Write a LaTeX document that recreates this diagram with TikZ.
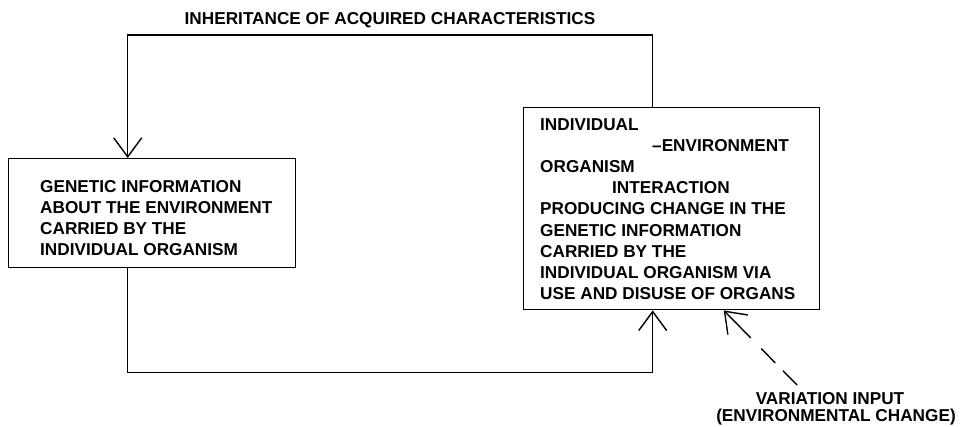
\documentclass[tikz,border=0pt]{standalone}
\usepackage{fontspec}
\setmainfont{Liberation Sans}
\usetikzlibrary{arrows.meta}
\begin{document}
\begin{tikzpicture}[x=1pt,y=1pt,
  box/.style={draw, line width=1.4pt, inner sep=0pt},
  txt/.style={font=\bfseries\fontsize{17.2}{21.2}\selectfont, align=left, inner sep=0pt},
  lbl/.style={font=\bfseries\fontsize{17.2}{16.5}\selectfont, inner sep=0pt},
  conn/.style={line width=1.4pt},
  arr/.style={conn, -{Straight Barb[length=19pt,width=28pt,line width=1.4pt]}},
]
\useasboundingbox (0,0) rectangle (963,426);
% boxes
\node[box, minimum width=287pt, minimum height=109pt, anchor=north west] (gen) at (8,268) {};
\node[box, minimum width=296pt, minimum height=202pt, anchor=north west] (rbox) at (523,319) {};
% box texts
\node[txt, anchor=north west] (gentext) at (40,246) {GENETIC INFORMATION\\ABOUT THE ENVIRONMENT\\CARRIED BY THE\\INDIVIDUAL ORGANISM};
\node[txt, anchor=north west] (rtext) at (540,308) {INDIVIDUAL\\\hspace*{112pt}–ENVIRONMENT\\ORGANISM\\\hspace*{72pt}INTERACTION\\PRODUCING CHANGE IN THE\\GENETIC INFORMATION\\CARRIED BY THE\\INDIVIDUAL ORGANISM VIA\\USE AND DISUSE OF ORGANS};
% labels
\node[lbl] (inh) at (390,406) {INHERITANCE OF ACQUIRED CHARACTERISTICS};
\node[lbl, align=center, anchor=south] (vin) at (836,1) {\hspace*{-12pt}VARIATION INPUT\\(ENVIRONMENTAL CHANGE)};
% connectors
\draw[arr] ([xshift=-19pt]rbox.north) -- ++(0,72) -| ([xshift=-24.5pt]gen.north);
\draw[arr] ([xshift=-24.5pt]gen.south) -- ++(0,-104) -| ([xshift=-19pt]rbox.south);
\coordinate (vtail) at (797,41);
\draw[arr, dash pattern=on 20pt off 11pt on 20pt off 15pt on 200pt] (vtail) -- ([xshift=52pt]rbox.south);
\end{tikzpicture}
\end{document}
